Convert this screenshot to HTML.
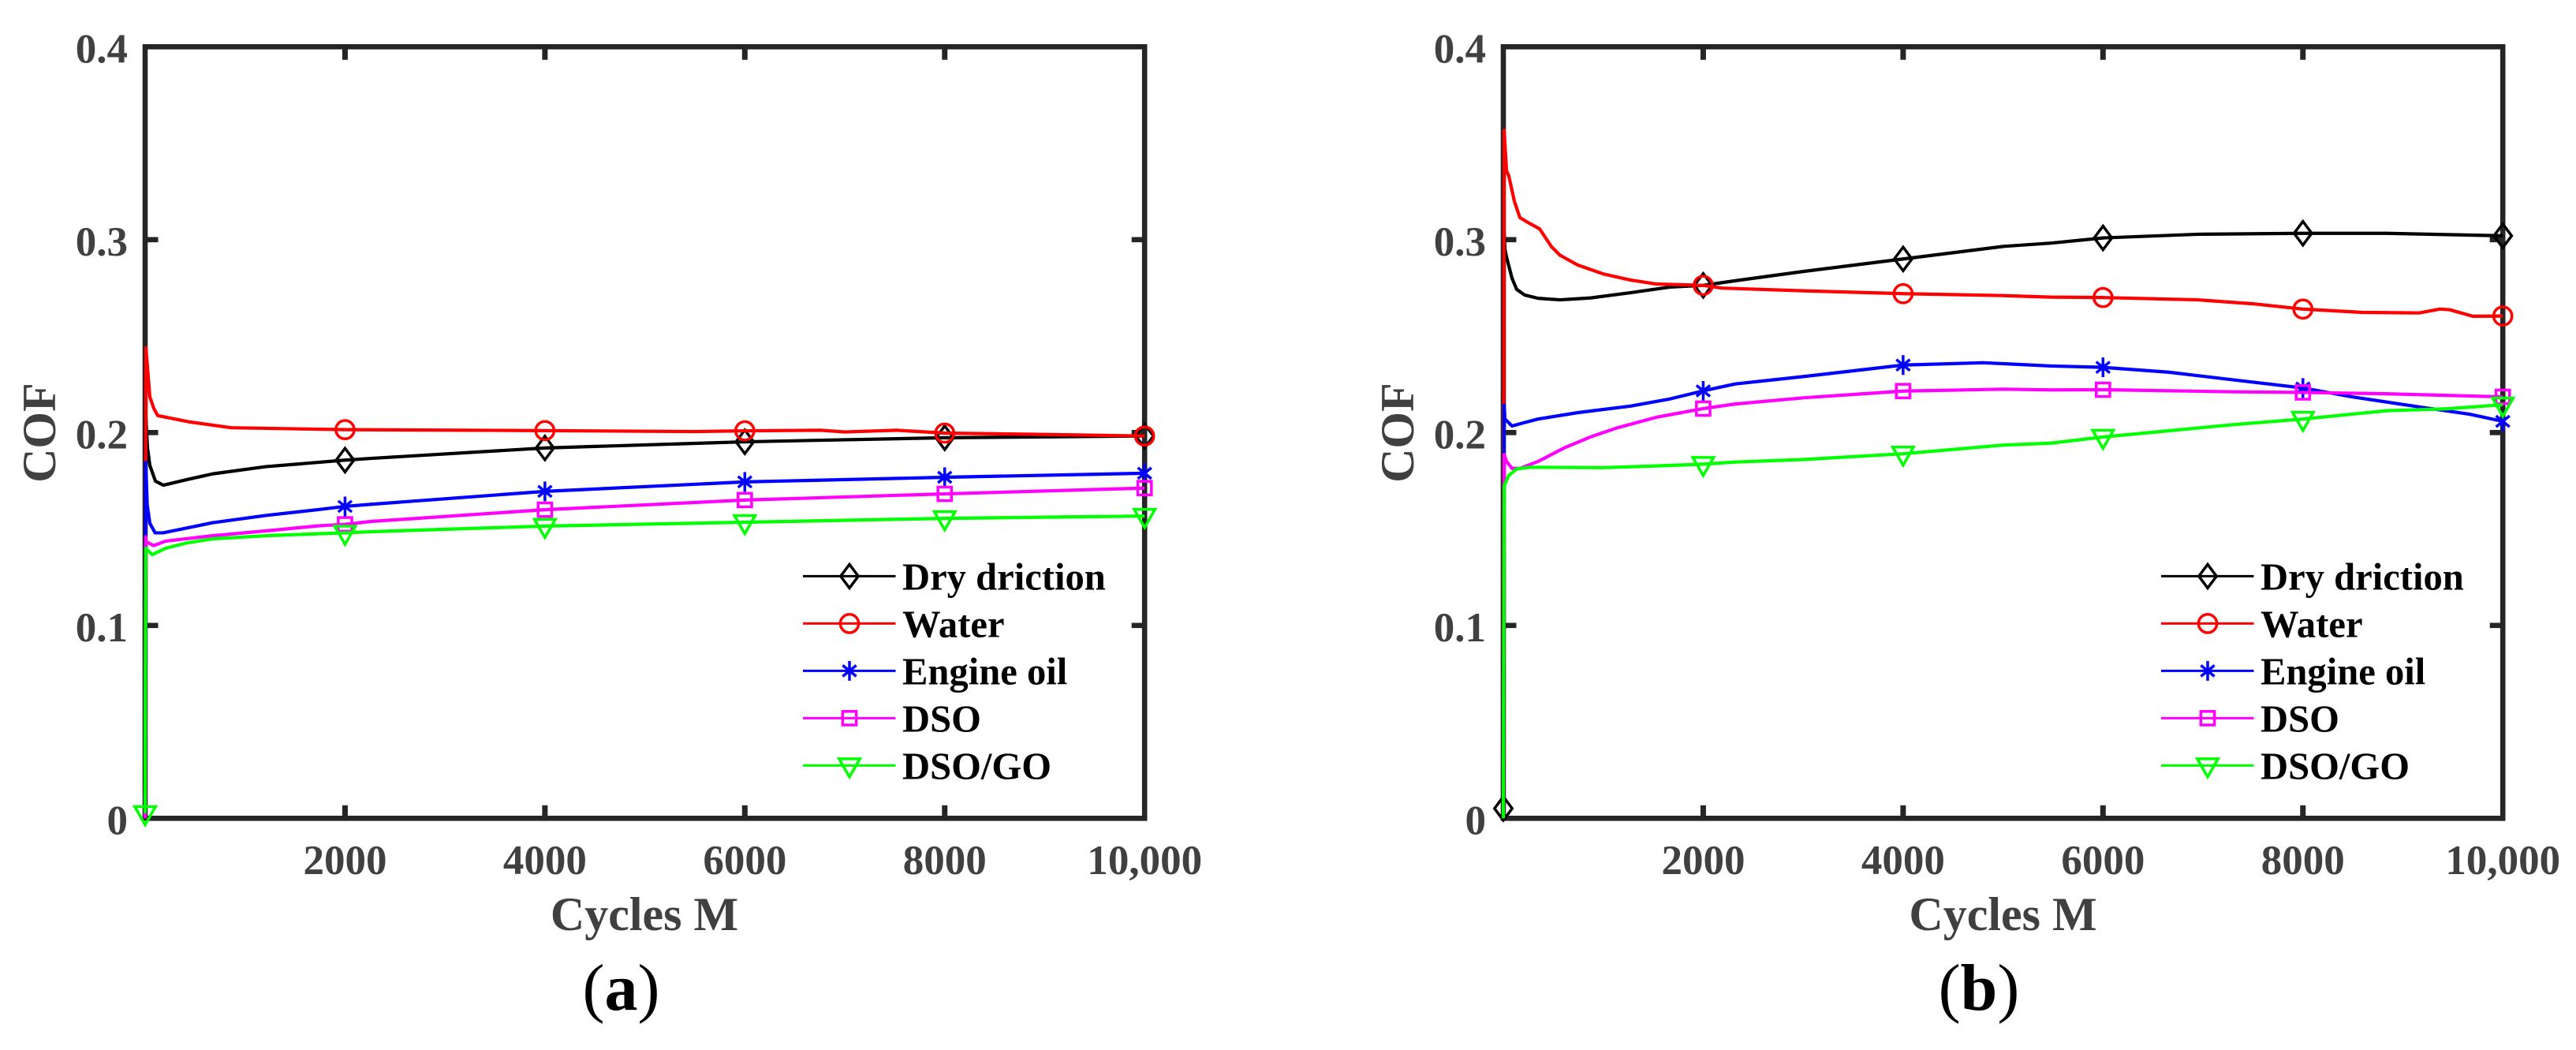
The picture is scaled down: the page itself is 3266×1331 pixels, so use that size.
<!DOCTYPE html>
<html lang="en">
<head>
<meta charset="utf-8">
<title>COF vs Cycles</title>
<style>
html,body{margin:0;padding:0;background:#fff;}
body{width:3266px;height:1331px;overflow:hidden;}
svg{display:block;}
text{font-family:"Liberation Serif",serif;}
.tick{font-size:53px;font-weight:bold;fill:#404040;}
.axt{font-size:60px;font-weight:bold;fill:#404040;}
.leg{font-size:48.6px;font-weight:bold;fill:#000;}
.cap{font-size:84px;fill:#000;}
</style>
</head>
<body>
<svg id="fig" xmlns="http://www.w3.org/2000/svg" width="3266" height="1331" viewBox="0 0 3266 1331">
  <rect x="0" y="0" width="3266" height="1331" fill="#fff"/>

  <g id="panelA">
    <text class="axt" x="817" y="1179" text-anchor="middle">Cycles M</text>
    <text class="axt" transform="translate(70,548.6) rotate(-90)" text-anchor="middle">COF</text>
    <text class="cap" x="787.5" y="1280" text-anchor="middle">(<tspan font-weight="bold">a</tspan>)</text>
    <g>
      <text class="leg" x="1144" y="747.5">Dry driction</text>
      <text class="leg" x="1144" y="807.5">Water</text>
      <text class="leg" x="1144" y="867.5">Engine oil</text>
      <text class="leg" x="1144" y="927.5">DSO</text>
      <text class="leg" x="1144" y="987.5">DSO/GO</text>
    </g>
  </g>

  <g id="panelB">
    <text class="axt" x="2539.5" y="1179" text-anchor="middle">Cycles M</text>
    <text class="axt" transform="translate(1792,548.6) rotate(-90)" text-anchor="middle">COF</text>
    <text class="cap" x="2509" y="1280" text-anchor="middle">(<tspan font-weight="bold">b</tspan>)</text>
    <g>
      <text class="leg" x="2866" y="747.5">Dry driction</text>
      <text class="leg" x="2866" y="807.5">Water</text>
      <text class="leg" x="2866" y="867.5">Engine oil</text>
      <text class="leg" x="2866" y="927.5">DSO</text>
      <text class="leg" x="2866" y="987.5">DSO/GO</text>
    </g>
  </g>
</svg>

<script>
// ---- tick data ----
var xTickValues = [2000, 4000, 6000, 8000, 10000];
var xTickLabels = ["2000", "4000", "6000", "8000", "10,000"];
var yTickValues = [0, 0.1, 0.2, 0.3, 0.4];
var yTickLabels = ["0", "0.1", "0.2", "0.3", "0.4"];
var markerCycles = [2000, 4000, 6000, 8000, 10000];

// ---- panel (a) ----
var aDryCycles = [0, 5, 24, 47, 103, 182, 418, 678, 1205, 2000, 2260, 4000, 6000, 8000, 10000];
var aDryCof = [0, 0.21, 0.192, 0.183, 0.1748, 0.1727, 0.1756, 0.1786, 0.1823, 0.1857, 0.1866, 0.192, 0.1952, 0.1973, 0.1982];
var aWaterCycles = [0, 8, 47, 87, 126, 442, 860, 2000, 4000, 5500, 6000, 6760, 7000, 7520, 8000, 9000, 10000];
var aWaterCof = [0, 0.244, 0.2185, 0.2125, 0.2088, 0.2055, 0.2025, 0.2015, 0.201, 0.2005, 0.2009, 0.2012, 0.2003, 0.2012, 0.1997, 0.199, 0.1982];
var aOilCycles = [0, 6, 21, 47, 100, 180, 671, 1205, 1728, 2000, 2260, 4000, 6000, 8000, 10000];
var aOilCof = [0, 0.1845, 0.1625, 0.153, 0.148, 0.148, 0.1532, 0.157, 0.16, 0.1617, 0.1628, 0.1695, 0.1744, 0.1768, 0.1789];
var aDsoCycles = [0, 6, 10, 87, 205, 671, 1205, 1728, 2000, 2260, 4000, 6000, 8000, 10000];
var aDsoCof = [0, 0.146, 0.1434, 0.1414, 0.1437, 0.1465, 0.149, 0.1516, 0.1524, 0.1539, 0.16, 0.165, 0.1682, 0.1712];
var aGoCycles = [0, 6, 71, 205, 418, 678, 1205, 1728, 2000, 2260, 4000, 6000, 8000, 10000];
var aGoCof = [0.0026, 0.14, 0.1367, 0.14, 0.1428, 0.1449, 0.1465, 0.1475, 0.148, 0.1486, 0.1515, 0.1535, 0.1555, 0.1567];

// ---- panel (b) ----
var bDryCycles = [0, 8, 16, 32, 87, 134, 213, 347, 568, 876, 1271, 1665, 2000, 2320, 3000, 4000, 5000, 5478, 6000, 6953, 8000, 8832, 10000];
var bDryCof = [0.0051, 0.3036, 0.295, 0.291, 0.28, 0.2742, 0.2713, 0.2696, 0.2688, 0.2698, 0.2725, 0.2754, 0.2763, 0.2787, 0.2835, 0.29, 0.2965, 0.2982, 0.3009, 0.3028, 0.3033, 0.3033, 0.302];
var bWaterCycles = [0, 8, 32, 55, 110, 166, 268, 363, 481, 568, 742, 1002, 1271, 1531, 2000, 2186, 3000, 4000, 5000, 5478, 6000, 6950, 7490, 8000, 8595, 9163, 9369, 9467, 9700, 10000];
var bWaterCof = [0, 0.3568, 0.3357, 0.333, 0.32, 0.3114, 0.3083, 0.3056, 0.2964, 0.2919, 0.2869, 0.2822, 0.2791, 0.277, 0.2763, 0.2749, 0.2735, 0.272, 0.271, 0.2702, 0.27, 0.2688, 0.2668, 0.264, 0.2623, 0.262, 0.264, 0.2637, 0.2603, 0.2604];
var bOilCycles = [0, 8, 16, 87, 213, 347, 742, 1271, 1665, 2000, 2320, 3000, 4000, 4800, 5478, 6000, 6653, 7324, 8000, 8492, 9163, 9668, 10000];
var bOilCof = [0, 0.2143, 0.207, 0.2034, 0.2052, 0.207, 0.2103, 0.2137, 0.2174, 0.2216, 0.2252, 0.229, 0.235, 0.2362, 0.2345, 0.2338, 0.2313, 0.2272, 0.2231, 0.2185, 0.2133, 0.2095, 0.2058];
var bDsoCycles = [0, 8, 32, 87, 166, 347, 608, 876, 1137, 1531, 2000, 2320, 3000, 4000, 5000, 5478, 6000, 7324, 8000, 8832, 10000];
var bDsoCof = [0, 0.1887, 0.185, 0.1814, 0.1814, 0.185, 0.192, 0.1978, 0.2024, 0.2079, 0.2124, 0.2148, 0.218, 0.2215, 0.2225, 0.2221, 0.2222, 0.2211, 0.2208, 0.2201, 0.2185];
var bGoCycles = [0, 8, 55, 134, 268, 1002, 1531, 2000, 2320, 3000, 4000, 5000, 5478, 6000, 7324, 8000, 8832, 9432, 10000];
var bGoCof = [0, 0.1723, 0.1778, 0.1811, 0.182, 0.1818, 0.1827, 0.1836, 0.1847, 0.186, 0.189, 0.1935, 0.1945, 0.1977, 0.2042, 0.207, 0.2113, 0.2123, 0.2144];

var NS = "http://www.w3.org/2000/svg";
var AXIS = "#252525";
var Y0 = 1037.3, YPER = 2445, PLOT_W = 1267.2;

function yScale(v) { return Y0 - v * YPER; }

function node(parent, tag, attrs) {
  var el = document.createElementNS(NS, tag);
  for (var k in attrs) el.setAttribute(k, attrs[k]);
  parent.appendChild(el);
  return el;
}

function interp(xs, ys, c) {
  for (var i = 0; i < xs.length - 1; i++) {
    if (c >= xs[i] && c <= xs[i + 1]) {
      var t = (c - xs[i]) / (xs[i + 1] - xs[i]);
      return ys[i] + t * (ys[i + 1] - ys[i]);
    }
  }
  return ys[ys.length - 1];
}

function drawMarker(g, kind, cx, cy, color) {
  var sw = 3.5, m;
  if (kind === "diamond") {
    m = node(g, "polygon", { points: [cx, cy - 15, cx + 11.2, cy, cx, cy + 15, cx - 11.2, cy].join(","), fill: "none", stroke: color, "stroke-width": sw, "stroke-miterlimit": 10 });
  } else if (kind === "circle") {
    m = node(g, "circle", { cx: cx, cy: cy, r: 11.6, fill: "none", stroke: color, "stroke-width": sw });
  } else if (kind === "star") {
    var d = "M" + cx + " " + (cy - 12.5) + "V" + (cy + 12.5) +
            "M" + (cx - 8.6) + " " + (cy - 7) + "L" + (cx + 8.6) + " " + (cy + 7) +
            "M" + (cx - 8.6) + " " + (cy + 7) + "L" + (cx + 8.6) + " " + (cy - 7);
    m = node(g, "path", { d: d, fill: "none", stroke: color, "stroke-width": sw });
  } else if (kind === "square") {
    m = node(g, "rect", { x: cx - 8.6, y: cy - 8.6, width: 17.2, height: 17.2, fill: "none", stroke: color, "stroke-width": sw });
  } else {
    m = node(g, "polygon", { points: [cx - 13.2, cy - 8.5, cx + 13.2, cy - 8.5, cx, cy + 14.5].join(","), fill: "none", stroke: color, "stroke-width": sw, "stroke-miterlimit": 10 });
  }
  return m;
}

function drawAxes(panel, x0, prefix) {
  var xScale = function (c) { return x0 + c * PLOT_W / 10000; };
  var g = node(panel, "g", {});
  
  
  var box = node(g, "rect", { x: xScale(0), y: yScale(0.4), width: PLOT_W, height: yScale(0) - yScale(0.4), fill: "none", stroke: AXIS, "stroke-width": 6.6 });
  
  

  xTickValues.forEach(function (v, i) {
    if (v < 10000) {
      var bottom = node(g, "line", { x1: xScale(v), x2: xScale(v), y1: yScale(0), y2: yScale(0) - 16.5, stroke: AXIS, "stroke-width": 7 });
      
      
      var top = node(g, "line", { x1: xScale(v), x2: xScale(v), y1: yScale(0.4), y2: yScale(0.4) + 16.5, stroke: AXIS, "stroke-width": 7 });
      
      
    }
    var lab = node(g, "text", { x: xScale(v), y: 1108, "text-anchor": "middle", "class": "tick" });
    lab.textContent = xTickLabels[i];
    
    
  });

  yTickValues.forEach(function (v, i) {
    if (v > 0 && v < 0.4) {
      var left = node(g, "line", { x1: xScale(0), x2: xScale(0) + 16.5, y1: yScale(v), y2: yScale(v), stroke: AXIS, "stroke-width": 6.6 });
      
      
      var right = node(g, "line", { x1: xScale(10000), x2: xScale(10000) - 16.5, y1: yScale(v), y2: yScale(v), stroke: AXIS, "stroke-width": 6.6 });
      
      
    }
    var lab = node(g, "text", { x: xScale(0) - 22, y: yScale(v) + 20, "text-anchor": "end", "class": "tick" });
    lab.textContent = yTickLabels[i];
    
    
  });
}

function drawSeries(panel, x0, prefix, s) {
  var xScale = function (c) { return x0 + c * PLOT_W / 10000; };
  var g = node(panel, "g", {});
  
  
  var pts = s.cycles.map(function (c, i) { return xScale(c).toFixed(2) + "," + yScale(s.cof[i]).toFixed(2); }).join(" ");
  var line = node(g, "polyline", { points: pts, fill: "none", stroke: s.color, "stroke-width": 4.2, "stroke-linejoin": "round" });
  
  
  var list = s.zeroMarker ? [0].concat(markerCycles) : markerCycles;
  list.forEach(function (c) {
    var m = drawMarker(g, s.marker, xScale(c), yScale(interp(s.cycles, s.cof, c)), s.color);
    
    
  });
}

function drawLegend(panel, x0, prefix, seriesList) {
  var g = node(panel, "g", {});
  
  
  seriesList.forEach(function (s, i) {
    var ly = 730.4 + i * 60;
    var sample = node(g, "line", { x1: x0 + 834, x2: x0 + 951.5, y1: ly, y2: ly, stroke: s.color, "stroke-width": 3 });
    
    
    var m = drawMarker(g, s.marker, x0 + 893, ly, s.color);
    
    
  });
}

var seriesA = [
  { key: "dry", color: "#000000", marker: "diamond", cycles: aDryCycles, cof: aDryCof },
  { key: "water", color: "#ff0000", marker: "circle", cycles: aWaterCycles, cof: aWaterCof },
  { key: "engine-oil", color: "#0000ff", marker: "star", cycles: aOilCycles, cof: aOilCof },
  { key: "dso", color: "#ff00ff", marker: "square", cycles: aDsoCycles, cof: aDsoCof },
  { key: "dso-go", color: "#00ff00", marker: "tri", cycles: aGoCycles, cof: aGoCof, zeroMarker: true }
];
var seriesB = [
  { key: "dry", color: "#000000", marker: "diamond", cycles: bDryCycles, cof: bDryCof, zeroMarker: true },
  { key: "water", color: "#ff0000", marker: "circle", cycles: bWaterCycles, cof: bWaterCof },
  { key: "engine-oil", color: "#0000ff", marker: "star", cycles: bOilCycles, cof: bOilCof },
  { key: "dso", color: "#ff00ff", marker: "square", cycles: bDsoCycles, cof: bDsoCof },
  { key: "dso-go", color: "#00ff00", marker: "tri", cycles: bGoCycles, cof: bGoCof }
];

var pA = document.getElementById("panelA");
var pB = document.getElementById("panelB");
drawAxes(pA, 184, "panel-a");
seriesA.forEach(function (s) { drawSeries(pA, 184, "panel-a", s); });
drawLegend(pA, 184, "panel-a", seriesA);
drawAxes(pB, 1906, "panel-b");
seriesB.forEach(function (s) { drawSeries(pB, 1906, "panel-b", s); });
drawLegend(pB, 1906, "panel-b", seriesB);
</script>
</body>
</html>
